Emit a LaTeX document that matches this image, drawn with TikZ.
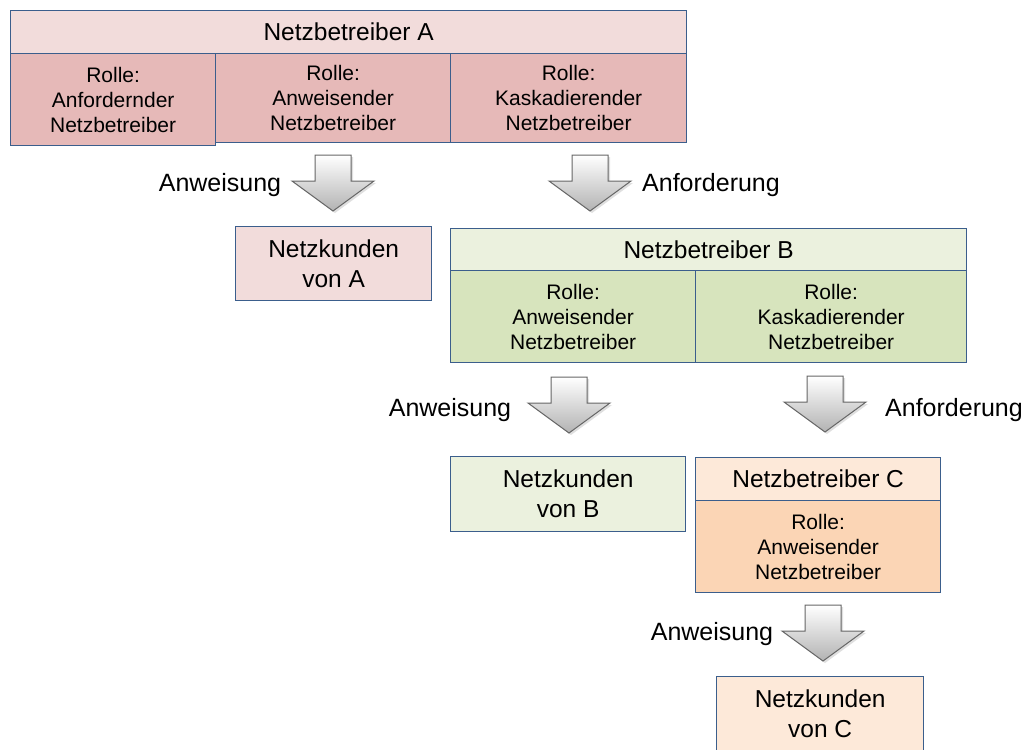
\documentclass[tikz,border=0pt]{standalone}
\usepackage{fontspec}
\setmainfont{Liberation Sans}
\usetikzlibrary{shadows}
\definecolor{frame}{HTML}{3B5E8C}
\definecolor{aHead}{HTML}{F2DCDB}
\definecolor{aRole}{HTML}{E6B9B8}
\definecolor{bHead}{HTML}{EBF1DE}
\definecolor{bRole}{HTML}{D7E4BD}
\definecolor{cHead}{HTML}{FDE9D9}
\definecolor{cRole}{HTML}{FBD5B5}
\definecolor{arrowline}{HTML}{666666}
\tikzset{
  cell/.style={draw=frame, line width=1.3pt, align=center, inner sep=0pt, anchor=north west},
  headtext/.style={font=\fontsize{24.5}{30}\selectfont},
  roletext/.style={font=\fontsize{21}{25}\selectfont},
  lbl/.style={font=\fontsize{25}{30}\selectfont, inner sep=0pt},
  arrowbody/.style={draw=arrowline, line width=1pt, top color=white, bottom color=gray!60,
    drop shadow={opacity=0.25, shadow xshift=2pt, shadow yshift=-2pt}},
  downarrow/.pic={
    \path[arrowbody] (-18,0) -- (18,0) -- (18,26) -- (41,26) -- (0,56)
      -- (-41,26) -- (-18,26) -- cycle;
  }
}
\begin{document}
\begin{tikzpicture}[x=1pt, y=-1pt]
\clip (0,0) rectangle (1027,749);
\fill[white] (0,0) rectangle (1027,749);

% Netzbetreiber A
\node[cell, fill=aHead, headtext, minimum width=676pt, minimum height=43pt] (aH) at (10,10) {Netzbetreiber A};
\node[cell, fill=aRole, roletext, minimum width=205pt, minimum height=92pt] (aR1) at (10,53) {Rolle:\\Anfordernder\\Netzbetreiber};
\node[cell, fill=aRole, roletext, minimum width=235pt, minimum height=89pt] (aR2) at (215,53) {Rolle:\\Anweisender\\Netzbetreiber};
\node[cell, fill=aRole, roletext, minimum width=236pt, minimum height=89pt] (aR3) at (450,53) {Rolle:\\Kaskadierender\\Netzbetreiber};

% Arrows from A
\pic at (333,155) {downarrow};
\node[lbl] (l1) at (220,185) {Anweisung};
\pic at (590,155) {downarrow};
\node[lbl] (l2) at (711,185) {Anforderung};

% Netzkunden von A
\node[cell, fill=aHead, headtext, minimum width=196pt, minimum height=74pt] (kA) at (235,226) {Netzkunden\\von A};

% Netzbetreiber B
\node[cell, fill=bHead, headtext, minimum width=516pt, minimum height=42pt] (bH) at (450,228) {Netzbetreiber B};
\node[cell, fill=bRole, roletext, minimum width=245pt, minimum height=92pt] (bR1) at (450,270) {Rolle:\\Anweisender\\Netzbetreiber};
\node[cell, fill=bRole, roletext, minimum width=271pt, minimum height=92pt] (bR2) at (695,270) {Rolle:\\Kaskadierender\\Netzbetreiber};

% Arrows from B
\pic at (569,377) {downarrow};
\node[lbl] (l3) at (450,410) {Anweisung};
\pic at (825,376) {downarrow};
\node[lbl] (l4) at (954,410) {Anforderung};

% Netzkunden von B
\node[cell, fill=bHead, headtext, minimum width=235pt, minimum height=75pt] (kB) at (450,456) {Netzkunden\\von B};

% Netzbetreiber C
\node[cell, fill=cHead, headtext, minimum width=245pt, minimum height=43pt] (cH) at (695,457) {Netzbetreiber C};
\node[cell, fill=cRole, roletext, minimum width=245pt, minimum height=92pt] (cR1) at (695,500) {Rolle:\\Anweisender\\Netzbetreiber};

% Arrow from C
\pic at (823,605) {downarrow};
\node[lbl] (l5) at (712,634) {Anweisung};

% Netzkunden von C (runs past the lower edge)
\node[cell, fill=cHead, headtext, minimum width=207pt, minimum height=75pt] (kC) at (716,676) {Netzkunden\\von C};
\end{tikzpicture}
\end{document}
